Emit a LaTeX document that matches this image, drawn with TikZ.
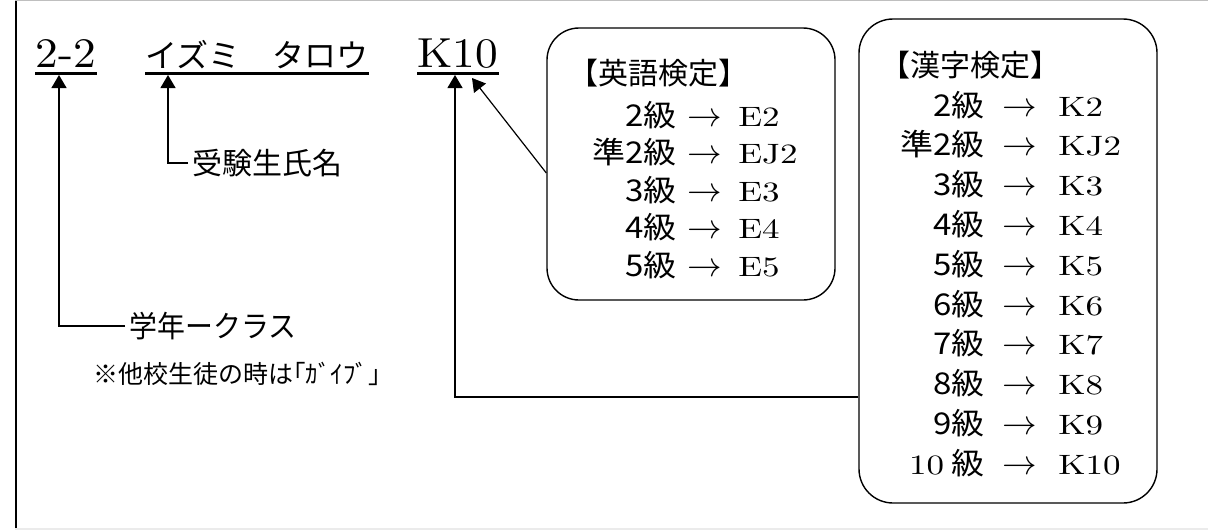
\documentclass[tikz,border=0pt]{standalone}
\usepackage{fontspec}
\newfontfamily\jp{Noto Sans CJK JP}
\newfontfamily\jpwide[FakeStretch=1.1]{Noto Sans CJK JP}
\newfontfamily\jpnarrow[FakeStretch=0.93]{Noto Sans CJK JP}
\newfontfamily\lmhead[FakeStretch=1.08]{lmroman10-regular.otf}
\newfontfamily\lmwide[FakeStretch=1.25]{lmroman10-regular.otf}
\newcommand\jprow{\jpwide\fontsize{15}{18}\selectfont}
\newcommand\lmrow{\lmwide\fontsize{14}{17}\selectfont}
\usetikzlibrary{arrows.meta}

\begin{document}
\begin{tikzpicture}[x=0.5pt,y=-0.5pt,
            ptr/.style = {-{Triangle[width=7.5pt,length=6.5pt]},
                line width=0.6pt},
            uline/.style = {line width=1.5pt},
            infobox/.style = {draw, line width=0.7pt,
                rounded corners=16pt},
            headtext/.style = {inner sep=0pt, anchor=base},
            label/.style = {anchor=west, inner ysep=0pt, inner xsep=2pt}]

        % Frame
        \useasboundingbox (0,0) rectangle (1208,530);
        \draw[line width=1pt] (15.5,0) -- (15.5,530);
        \draw[black!25, line width=0.8pt] (15,0.5) -- (1208,0.5);
        \draw[black!8, line width=1pt] (15,528.5) -- (1208,528.5);

        % Heading
        \node[headtext] (cls) at (66,67) {\lmhead\fontsize{21}{25}\selectfont 2-2};
        \node[headtext] (name) at (257,67) {\jp\fontsize{16}{19}\selectfont イズミ　タロウ};
        \node[headtext] (code) at (458,67) {\lmhead\fontsize{21}{25}\selectfont K10};
        \foreach \n in {cls,name,code}
            \draw[uline] ([yshift=-3pt]\n.base west) -- ([yshift=-3pt]\n.base east);

        % Labels
        \node[label] (nmlabel) at (188,163) {\jp\fontsize{15}{18}\selectfont 受験生氏名};
        \node[label] (grlabel) at (125,326) {\jpnarrow\fontsize{15}{18}\selectfont 学年ークラス};
        \node[label] (note) at (89,374) {\jp\fontsize{12.5}{15}\selectfont ※他校生徒の時は｢ｶﾞｲﾌﾞ｣};

        % Boxes
        \node[infobox, minimum width=144pt, minimum height=136pt] (eiken) at (691,164) {};
        \node[infobox, minimum width=149pt, minimum height=242pt,
            rounded corners=17pt] (kanken) at (1008,261) {};

        % English
        \node[anchor=west, inner sep=0pt] (eikentitle) at (568,73) {\jp\fontsize{15}{18}\selectfont 【英語検定】};
        \foreach \g/\c [count=\i from 0] in {2級/E2, 準2級/EJ2, 3級/E3, 4級/E4, 5級/E5} {
            \node[anchor=base east, inner sep=0pt] (eg\i) at (677,126+37.5*\i) {\jprow \g};
            \node[anchor=base, inner sep=0pt] (ea\i) at (705,126+37.5*\i) {\fontsize{16}{18}\selectfont$\rightarrow$};
            \node[anchor=base west, inner sep=0pt] (ec\i) at (738,126+37.5*\i) {\lmrow \c};
        }

        % Kanji
        \node[anchor=west, inner sep=0pt] (kankentitle) at (880,65) {\jp\fontsize{15}{18}\selectfont 【漢字検定】};
        \foreach \g/\c [count=\i from 0] in {2級/K2, 準2級/KJ2, 3級/K3, 4級/K4, 5級/K5,
                6級/K6, 7級/K7, 8級/K8, 9級/K9, {{\lmrow 10} 級}/K10} {
            \node[anchor=base east, inner sep=0pt] (kg\i) at (985,116+39.8*\i) {\jprow \g};
            \node[anchor=base, inner sep=0pt] (ka\i) at (1020,116+39.8*\i) {\fontsize{16}{18}\selectfont$\rightarrow$};
            \node[anchor=base west, inner sep=0pt] (kc\i) at (1058,116+39.8*\i) {\lmrow \c};
        }

        % Arrows
        \coordinate (clsup) at (59,75);
        \coordinate (nameup) at (168,75);
        \coordinate (codeup) at (455,75);
        \coordinate (codetip) at (472,78);
        \draw[ptr] (grlabel.west) -| (clsup);
        \draw[ptr] (nmlabel.west) -| (nameup);
        \draw[ptr] ([yshift=-68pt]kanken.west) -| (codeup);
        \draw[ptr] ([yshift=-4.5pt]eiken.west) -- (codetip);

        \end{tikzpicture}
\end{document}
